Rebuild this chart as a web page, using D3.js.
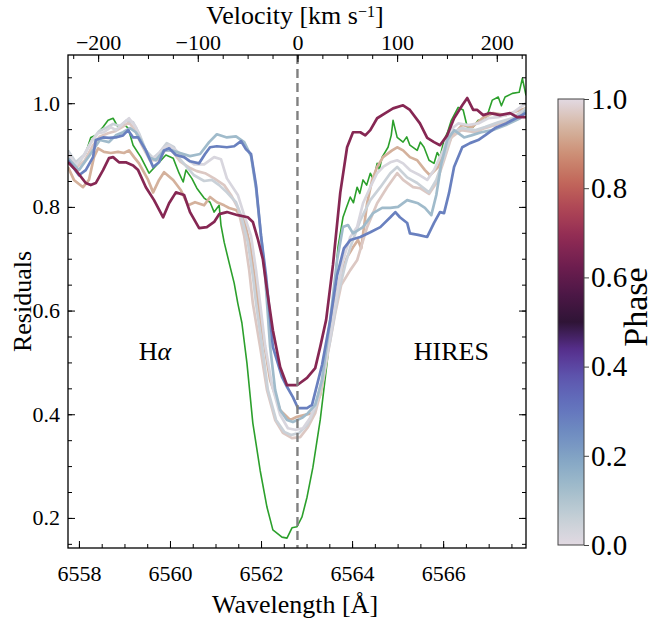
<!DOCTYPE html>
<html><head><meta charset="utf-8">
<script src="https://cdn.jsdelivr.net/npm/d3@7"></script>
<style>body{margin:0;background:#fff} svg text{font-family:'Liberation Serif', serif;fill:#000}</style>
</head><body><svg id="c" width="655" height="628"></svg>
<script>
// ---------------- data ----------------
const restWavelength = 6562.8;          // H-alpha rest wavelength [A]
const lightSpeed = 299792.458;          // km/s
const wlDomain = [6557.76, 6567.82];
const resDomain = [0.142, 1.093];
const wlTicks = [6558, 6560, 6562, 6564, 6566];
const velTicks = [-200, -100, 0, 100, 200];
const resTicks = [0.2, 0.4, 0.6, 0.8, 1.0];
const phaseTicks = [0, 0.2, 0.4, 0.6, 0.8, 1.0];

// twilight-like colormap stops
const cmapStops = [0, 0.0625, 0.125, 0.1875, 0.25, 0.3125, 0.375, 0.4375, 0.5, 0.5625, 0.625, 0.6875, 0.75, 0.8125, 0.875, 0.9375, 1];
const cmapColors = ["#e2d9e2","#c4cfd6","#a2bdcb","#86a7c5","#6f8dc1","#6272bd","#5e56af","#572f8e","#2f1436","#4c1746","#6e1e4f","#8f2a54","#ad4455","#c2665a","#cc8e74","#d5b6a2","#e2d9e2"];

// template spectrum (green, no phase)
const templateSpec = [[6557.76,0.909],[6557.93,0.877],[6558.15,0.904],[6558.26,0.934],[6558.37,0.938],[6558.53,0.954],[6558.64,0.967],[6558.75,0.971],[6558.86,0.954],[6558.97,0.961],[6559.08,0.952],[6559.19,0.919],[6559.36,0.896],[6559.54,0.865],[6559.74,0.884],[6559.91,0.900],[6560.07,0.894],[6560.20,0.865],[6560.29,0.848],[6560.35,0.871],[6560.48,0.855],[6560.59,0.836],[6560.75,0.817],[6560.88,0.809],[6560.97,0.790],[6561.08,0.803],[6561.12,0.765],[6561.19,0.732],[6561.30,0.692],[6561.41,0.653],[6561.49,0.614],[6561.58,0.576],[6561.69,0.499],[6561.82,0.383],[6561.98,0.292],[6562.13,0.221],[6562.26,0.177],[6562.46,0.163],[6562.57,0.161],[6562.68,0.181],[6562.79,0.183],[6562.90,0.202],[6563.01,0.240],[6563.14,0.298],[6563.30,0.389],[6563.45,0.499],[6563.58,0.607],[6563.69,0.722],[6563.80,0.780],[6563.88,0.800],[6563.96,0.819],[6564.03,0.808],[6564.11,0.838],[6564.17,0.826],[6564.24,0.852],[6564.32,0.842],[6564.40,0.865],[6564.47,0.852],[6564.55,0.884],[6564.60,0.872],[6564.66,0.896],[6564.79,0.915],[6564.86,0.938],[6564.90,0.967],[6564.99,0.934],[6565.12,0.925],[6565.20,0.935],[6565.27,0.919],[6565.43,0.909],[6565.50,0.925],[6565.58,0.915],[6565.69,0.890],[6565.80,0.884],[6565.87,0.905],[6565.93,0.896],[6566.02,0.929],[6566.10,0.945],[6566.18,0.967],[6566.33,0.992],[6566.44,0.987],[6566.53,0.954],[6566.66,0.954],[6566.77,0.967],[6566.92,0.967],[6567.00,0.985],[6567.08,1.006],[6567.21,1.012],[6567.28,0.995],[6567.36,1.012],[6567.52,1.019],[6567.67,1.021],[6567.74,1.048],[6567.82,1.015]];

const phaseA = 0.02;
const specA = [[6557.76,0.904],[6557.93,0.880],[6558.09,0.896],[6558.26,0.923],[6558.42,0.942],[6558.55,0.944],[6558.70,0.954],[6558.81,0.948],[6558.97,0.961],[6559.10,0.971],[6559.25,0.954],[6559.36,0.929],[6559.54,0.896],[6559.69,0.896],[6559.85,0.913],[6559.98,0.919],[6560.13,0.909],[6560.31,0.896],[6560.53,0.882],[6560.75,0.882],[6560.97,0.896],[6561.12,0.892],[6561.25,0.855],[6561.49,0.823],[6561.63,0.784],[6561.78,0.744],[6561.89,0.678],[6561.98,0.614],[6562.09,0.533],[6562.24,0.456],[6562.42,0.399],[6562.59,0.373],[6562.75,0.370],[6562.92,0.373],[6563.08,0.393],[6563.23,0.427],[6563.38,0.485],[6563.54,0.562],[6563.67,0.634],[6563.80,0.697],[6563.96,0.742],[6564.11,0.761],[6564.24,0.807],[6564.40,0.838],[6564.55,0.865],[6564.68,0.877],[6564.84,0.886],[6564.99,0.890],[6565.12,0.884],[6565.27,0.871],[6565.49,0.861],[6565.65,0.852],[6565.80,0.871],[6566.00,0.909],[6566.15,0.948],[6566.33,0.961],[6566.55,0.958],[6566.77,0.961],[6566.99,0.971],[6567.21,0.973],[6567.52,0.981],[6567.82,1.000]];

const phaseB = 0.05;
const specB = [[6557.76,0.909],[6557.93,0.886],[6558.11,0.900],[6558.29,0.929],[6558.44,0.946],[6558.59,0.952],[6558.75,0.960],[6558.90,0.956],[6559.05,0.967],[6559.19,0.963],[6559.32,0.942],[6559.47,0.909],[6559.63,0.894],[6559.78,0.906],[6559.93,0.923],[6560.09,0.915],[6560.22,0.892],[6560.53,0.861],[6560.75,0.850],[6560.92,0.852],[6561.08,0.842],[6561.25,0.828],[6561.45,0.809],[6561.56,0.784],[6561.71,0.732],[6561.82,0.667],[6561.89,0.614],[6562.02,0.533],[6562.15,0.447],[6562.33,0.389],[6562.51,0.366],[6562.66,0.360],[6562.84,0.364],[6563.01,0.379],[6563.19,0.412],[6563.34,0.466],[6563.52,0.543],[6563.69,0.630],[6563.85,0.688],[6563.96,0.722],[6564.18,0.774],[6564.40,0.813],[6564.62,0.838],[6564.84,0.865],[6564.99,0.877],[6565.21,0.857],[6565.43,0.846],[6565.69,0.828],[6565.85,0.852],[6566.02,0.896],[6566.18,0.942],[6566.40,0.952],[6566.70,0.948],[6566.92,0.954],[6567.21,0.963],[6567.52,0.971],[6567.82,0.990]];

const phaseC = 0.97;
const specC = [[6557.76,0.898],[6557.93,0.875],[6558.13,0.890],[6558.31,0.919],[6558.46,0.936],[6558.64,0.942],[6558.79,0.946],[6558.95,0.954],[6559.10,0.963],[6559.23,0.948],[6559.38,0.919],[6559.56,0.890],[6559.74,0.890],[6559.89,0.909],[6560.04,0.909],[6560.22,0.888],[6560.44,0.875],[6560.59,0.869],[6560.77,0.865],[6560.97,0.855],[6561.19,0.842],[6561.34,0.823],[6561.49,0.798],[6561.63,0.744],[6561.74,0.678],[6561.82,0.614],[6561.98,0.530],[6562.13,0.447],[6562.31,0.389],[6562.48,0.364],[6562.68,0.354],[6562.86,0.356],[6563.03,0.375],[6563.19,0.402],[6563.34,0.453],[6563.47,0.518],[6563.63,0.595],[6563.76,0.649],[6563.96,0.678],[6564.11,0.697],[6564.33,0.761],[6564.55,0.807],[6564.77,0.838],[6564.99,0.865],[6565.12,0.852],[6565.34,0.838],[6565.49,0.836],[6565.69,0.825],[6565.85,0.846],[6566.02,0.890],[6566.18,0.934],[6566.40,0.948],[6566.70,0.944],[6566.92,0.952],[6567.21,0.960],[6567.52,0.967],[6567.82,0.987]];

const phaseTan = 0.93;
const specTan = [[6557.76,0.877],[6557.89,0.852],[6558.09,0.838],[6558.22,0.852],[6558.33,0.896],[6558.42,0.913],[6558.55,0.906],[6558.70,0.904],[6558.86,0.906],[6558.99,0.904],[6559.10,0.909],[6559.21,0.896],[6559.32,0.884],[6559.52,0.852],[6559.63,0.828],[6559.76,0.852],[6559.87,0.867],[6560.07,0.852],[6560.24,0.832],[6560.40,0.803],[6560.55,0.809],[6560.75,0.803],[6560.88,0.819],[6561.03,0.809],[6561.19,0.803],[6561.30,0.798],[6561.45,0.794],[6561.63,0.774],[6561.76,0.726],[6561.87,0.659],[6562.02,0.562],[6562.20,0.466],[6562.42,0.408],[6562.64,0.389],[6562.79,0.395],[6562.97,0.399],[6563.14,0.402],[6563.30,0.437],[6563.47,0.524],[6563.56,0.586],[6563.74,0.665],[6563.89,0.703],[6564.02,0.722],[6564.13,0.736],[6564.20,0.720],[6564.33,0.807],[6564.44,0.852],[6564.55,0.877],[6564.68,0.896],[6564.88,0.909],[6564.99,0.915],[6565.12,0.909],[6565.27,0.896],[6565.43,0.890],[6565.60,0.871],[6565.71,0.861],[6565.89,0.877],[6566.02,0.904],[6566.18,0.934],[6566.42,0.958],[6566.64,0.954],[6566.86,0.971],[6567.10,0.981],[6567.38,0.977],[6567.69,0.987],[6567.82,0.990]];

const phaseSteel = 0.13;
const specSteel = [[6557.76,0.894],[6558.00,0.871],[6558.24,0.900],[6558.46,0.929],[6558.66,0.925],[6558.81,0.938],[6558.97,0.944],[6559.12,0.952],[6559.25,0.944],[6559.36,0.929],[6559.54,0.896],[6559.69,0.890],[6559.87,0.909],[6560.04,0.909],[6560.22,0.904],[6560.44,0.898],[6560.66,0.902],[6560.86,0.925],[6561.03,0.940],[6561.25,0.934],[6561.45,0.936],[6561.63,0.925],[6561.78,0.898],[6561.89,0.836],[6562.00,0.744],[6562.09,0.667],[6562.20,0.530],[6562.31,0.447],[6562.42,0.408],[6562.57,0.389],[6562.70,0.385],[6562.90,0.393],[6563.03,0.402],[6563.19,0.418],[6563.34,0.466],[6563.52,0.582],[6563.67,0.697],[6563.80,0.761],[6563.91,0.765],[6564.02,0.749],[6564.24,0.761],[6564.46,0.788],[6564.66,0.798],[6564.84,0.798],[6565.01,0.800],[6565.21,0.813],[6565.45,0.807],[6565.60,0.798],[6565.74,0.784],[6565.85,0.823],[6565.96,0.884],[6566.09,0.929],[6566.24,0.948],[6566.46,0.934],[6566.62,0.938],[6566.84,0.944],[6567.08,0.948],[6567.38,0.958],[6567.69,0.971],[6567.82,0.987]];

const phaseBlue = 0.28;
const specBlue = [[6557.76,0.890],[6558.00,0.861],[6558.15,0.871],[6558.31,0.896],[6558.37,0.929],[6558.53,0.934],[6558.66,0.933],[6558.81,0.934],[6558.97,0.938],[6559.08,0.948],[6559.19,0.934],[6559.30,0.934],[6559.47,0.909],[6559.63,0.877],[6559.76,0.886],[6559.87,0.909],[6559.98,0.913],[6560.13,0.900],[6560.31,0.896],[6560.44,0.888],[6560.64,0.884],[6560.77,0.902],[6560.88,0.915],[6561.03,0.917],[6561.25,0.915],[6561.41,0.917],[6561.56,0.927],[6561.67,0.911],[6561.78,0.902],[6561.89,0.842],[6562.00,0.744],[6562.11,0.667],[6562.26,0.530],[6562.46,0.472],[6562.57,0.453],[6562.70,0.433],[6562.81,0.412],[6563.01,0.412],[6563.12,0.418],[6563.34,0.495],[6563.52,0.582],[6563.67,0.668],[6563.82,0.720],[6563.96,0.736],[6564.18,0.742],[6564.40,0.751],[6564.62,0.761],[6564.84,0.780],[6564.95,0.790],[6565.05,0.780],[6565.21,0.769],[6565.27,0.749],[6565.45,0.746],[6565.65,0.742],[6565.80,0.769],[6565.93,0.790],[6566.02,0.788],[6566.13,0.827],[6566.24,0.877],[6566.42,0.915],[6566.59,0.923],[6566.77,0.929],[6566.92,0.938],[6567.14,0.952],[6567.38,0.961],[6567.60,0.971],[6567.82,0.981]];

const phaseMaroon = 0.67;
const specMaroon = [[6557.76,0.886],[6557.93,0.871],[6558.15,0.846],[6558.26,0.842],[6558.37,0.846],[6558.53,0.871],[6558.66,0.894],[6558.75,0.896],[6558.88,0.886],[6559.03,0.886],[6559.19,0.880],[6559.30,0.871],[6559.47,0.838],[6559.65,0.813],[6559.85,0.780],[6559.98,0.807],[6560.13,0.828],[6560.31,0.823],[6560.44,0.790],[6560.64,0.759],[6560.81,0.761],[6560.97,0.771],[6561.08,0.786],[6561.25,0.790],[6561.49,0.784],[6561.71,0.780],[6561.82,0.771],[6561.93,0.738],[6562.04,0.699],[6562.11,0.653],[6562.26,0.562],[6562.42,0.491],[6562.57,0.456],[6562.79,0.456],[6563.01,0.470],[6563.19,0.489],[6563.30,0.530],[6563.43,0.582],[6563.58,0.688],[6563.74,0.827],[6563.89,0.915],[6564.02,0.944],[6564.18,0.944],[6564.29,0.938],[6564.40,0.948],[6564.55,0.971],[6564.73,0.981],[6564.90,0.990],[6565.12,0.996],[6565.27,0.987],[6565.49,0.961],[6565.65,0.933],[6565.80,0.925],[6565.93,0.919],[6566.09,0.938],[6566.24,0.971],[6566.42,0.996],[6566.53,1.010],[6566.66,0.987],[6566.75,0.987],[6566.88,0.977],[6567.03,0.981],[6567.25,0.977],[6567.47,0.981],[6567.63,0.973],[6567.82,0.973]];

// ---------------- drawing ----------------
const FONT = "'Liberation Serif', serif";
const svg = d3.select("#c");
const L = 68, R = 526, T = 55, B = 548;
const x = d3.scaleLinear().domain(wlDomain).range([L, R]);
const y = d3.scaleLinear().domain(resDomain).range([B, T]);
const toVel = w => (w - restWavelength) / restWavelength * lightSpeed;
const xv = d3.scaleLinear().domain(wlDomain.map(toVel)).range([L, R]);
const cmap = d3.scaleLinear().domain(cmapStops).range(cmapColors).interpolate(d3.interpolateRgb);

const defs = svg.append("defs");
defs.append("clipPath").attr("id", "clip")
  .append("rect").attr("x", L).attr("y", T).attr("width", R - L).attr("height", B - T);

const line = d3.line().x(d => x(d[0])).y(d => y(d[1]));
const plot = svg.append("g").attr("clip-path", "url(#clip)");

plot.append("path").datum(templateSpec).attr("d", line)
  .attr("fill", "none").attr("stroke", "#2ca02c").attr("stroke-width", 1.6).attr("stroke-linejoin", "round");

const phased = [
  {d: specTan, p: phaseTan},
  {d: specC, p: phaseC},
  {d: specB, p: phaseB},
  {d: specA, p: phaseA},
  {d: specSteel, p: phaseSteel},
  {d: specBlue, p: phaseBlue},
  {d: specMaroon, p: phaseMaroon}
];
phased.forEach(s => {
  plot.append("path").datum(s.d).attr("d", line)
    .attr("fill", "none").attr("stroke", cmap(s.p)).attr("stroke-width", 2.7)
    .attr("stroke-linejoin", "round");
});

// rest wavelength line
plot.append("line").attr("x1", x(restWavelength)).attr("x2", x(restWavelength))
  .attr("y1", T).attr("y2", B).attr("stroke", "#808080").attr("stroke-width", 2.4)
  .attr("stroke-dasharray", "9,5");

// axes (inward ticks)
function styleAxis(g, fs) {
  g.attr("font-family", null).attr("font-size", null);
  g.select(".domain").remove();
  g.selectAll("line").attr("stroke", "#000").attr("stroke-width", 1);
  g.selectAll("text").style("font-size", fs + "px");
}
const fmtWl = d3.format("d");
const fmtRes = d3.format(".1f");
const fmtVel = d => (d < 0 ? "\u2212" : "") + Math.abs(d);

let g = svg.append("g").attr("transform", `translate(0,${B})`)
  .call(d3.axisBottom(x).tickValues(d3.range(6558, 6568, 0.5)).tickSize(-4).tickFormat(""));
styleAxis(g, 20);
g = svg.append("g").attr("transform", `translate(0,${B})`)
  .call(d3.axisBottom(x).tickValues(wlTicks).tickSize(-7).tickPadding(13).tickFormat(fmtWl));
styleAxis(g, 22);
g.selectAll("text").attr("dy", "0.92em");

g = svg.append("g").attr("transform", `translate(0,${T})`)
  .call(d3.axisTop(xv).tickValues(d3.range(-225, 226, 25)).tickSize(-4).tickFormat(""));
styleAxis(g, 20);
g = svg.append("g").attr("transform", `translate(0,${T})`)
  .call(d3.axisTop(xv).tickValues(velTicks).tickSize(-7).tickPadding(5).tickFormat(fmtVel));
styleAxis(g, 22);

g = svg.append("g").attr("transform", `translate(${L},0)`)
  .call(d3.axisLeft(y).tickValues(d3.range(0.15, 1.09, 0.05)).tickSize(-4).tickFormat(""));
styleAxis(g, 20);
g = svg.append("g").attr("transform", `translate(${L},0)`)
  .call(d3.axisLeft(y).tickValues(resTicks).tickSize(-7).tickPadding(8).tickFormat(fmtRes));
styleAxis(g, 22);

g = svg.append("g").attr("transform", `translate(${R},0)`)
  .call(d3.axisRight(y).tickValues(d3.range(0.15, 1.09, 0.05)).tickSize(-4).tickFormat(""));
styleAxis(g, 20);
g = svg.append("g").attr("transform", `translate(${R},0)`)
  .call(d3.axisRight(y).tickValues(resTicks).tickSize(-7).tickFormat(""));
styleAxis(g, 20);

svg.append("rect").attr("x", L).attr("y", T).attr("width", R - L).attr("height", B - T)
  .attr("fill", "none").attr("stroke", "#000").attr("stroke-width", 1.3);

// axis labels
svg.append("text").attr("x", 295).attr("y", 613).attr("text-anchor", "middle")
  .style("font-size", "26px").text("Wavelength [\u00C5]");
const vt = svg.append("text").attr("x", 295).attr("y", 24).attr("text-anchor", "middle").style("font-size", "26px");
vt.append("tspan").text("Velocity [km s");
vt.append("tspan").attr("dy", -7).style("font-size", "16px").text("\u22121");
vt.append("tspan").attr("dy", 7).text("]");
svg.append("text").attr("transform", `translate(31,${(T + B) / 2}) rotate(-90)`)
  .attr("text-anchor", "middle").style("font-size", "26px").text("Residuals");

// annotations
const annY = 0.505;
const ha = svg.append("text").attr("x", x(6559.67)).attr("y", y(annY)).attr("text-anchor", "middle").style("font-size", "26px");
ha.append("tspan").text("H");
ha.append("tspan").style("font-style", "italic").text("\u03B1");
svg.append("text").attr("x", x(6566.18)).attr("y", y(annY)).attr("text-anchor", "middle")
  .style("font-size", "26px").text("HIRES");

// colorbar
const cbL = 558, cbW = 26, cbT = 99, cbB = 545;
const cy = d3.scaleLinear().domain([0, 1]).range([cbB, cbT]);
const grad = defs.append("linearGradient").attr("id", "cbg")
  .attr("x1", 0).attr("y1", 1).attr("x2", 0).attr("y2", 0);
d3.range(0, 1.0001, 0.02).forEach(t => {
  grad.append("stop").attr("offset", t).attr("stop-color", cmap(t));
});
svg.append("rect").attr("x", cbL).attr("y", cbT).attr("width", cbW).attr("height", cbB - cbT)
  .attr("fill", "url(#cbg)").attr("stroke", "#444").attr("stroke-width", 1);
g = svg.append("g").attr("transform", `translate(${cbL + cbW},0)`)
  .call(d3.axisRight(cy).tickValues(phaseTicks).tickSize(5).tickPadding(2).tickFormat(d3.format(".1f")));
styleAxis(g, 29);
g.selectAll("line").attr("stroke", "#444");
svg.append("text").attr("transform", `translate(647,307) rotate(-90)`)
  .attr("text-anchor", "middle").style("font-size", "34px").text("Phase");

svg.selectAll("text").style("font-family", FONT);
</script></body></html>
